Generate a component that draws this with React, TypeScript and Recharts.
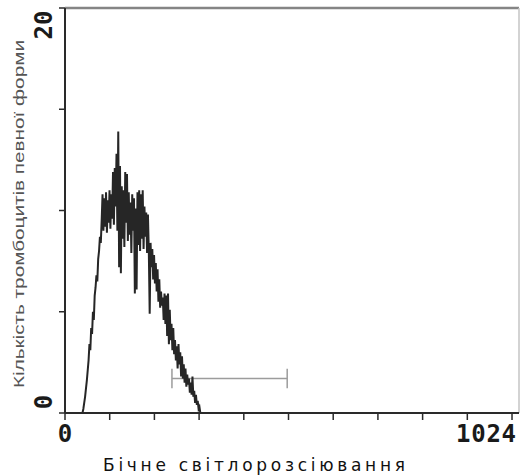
import { LineChart, Line, XAxis, YAxis, ReferenceLine } from 'recharts';

// histogram bins (side scatter channel)
const channelStart = 40;
const channelStep = 2;
const counts = [
  0, 0.2, 0.5, 0.8, 1.2, 1.6, 2.1, 2.6, 3.4, 3.1,
  4.2, 3.9, 5.0, 4.6, 5.8, 6.2, 6.8, 6.5, 7.6, 8.0,
  8.7, 8.4, 9.5, 10.8, 9.0, 10.6, 9.2, 10.9, 8.9, 10.5,
  9.4, 11.0, 9.1, 10.8, 9.6, 11.9, 9.3, 12.1, 10.2, 12.8,
  9.0, 13.9, 7.2, 12.2, 6.9, 11.2, 8.6, 11.0, 8.2, 11.9,
  9.4, 11.8, 8.5, 10.9, 8.8, 10.4, 7.9, 10.8, 9.0, 10.6,
  5.9, 10.1, 6.1, 10.9, 8.3, 11.0, 8.0, 10.8, 8.6, 11.0,
  8.1, 10.2, 8.7, 9.9, 7.9, 9.8, 8.0, 4.9, 8.4, 7.2,
  8.1, 6.6, 7.8, 6.4, 7.4, 6.0, 7.1, 5.5, 6.6, 5.2,
  6.0, 5.3, 5.7, 4.6, 5.9, 4.4, 5.8, 3.8, 5.9, 3.4,
  5.1, 3.6, 4.4, 3.1, 4.2, 2.9, 3.6, 2.6, 3.3, 2.2,
  3.4, 2.4, 3.0, 1.8, 2.8, 1.7, 2.4, 1.5, 2.2, 1.3,
  1.9, 1.4, 1.7, 1.0, 1.5, 0.9, 1.8, 0.8, 1.1, 0.5,
  0.9, 0.4, 0.6, 0.2, 0.3, 0,
];

const xTicks = [0, 102.4, 204.8, 307.2, 409.6, 512, 614.4, 716.8, 819.2, 921.6, 1024];
const xTickLabels: Record<number, string> = { 0: '0', 1024: '1024' };
const yTicks = [0, 5, 10, 15, 20];
const yTickLabels: Record<number, string> = { 0: '0', 20: '20' };

// marker (gate) under the tail
const gateFrom = 245;
const gateTo = 509;
const gateLevel = 1.7;
const gateCap = 0.48;

const xTitle = 'Бічне світлорозсіювання';
const yTitle = 'Кількість тромбоцитів певної форми';

const data = counts.map((c, i) => ({ ch: channelStart + i * channelStep, count: c }));

const XTick = (props: any) => {
  const { x, y, payload } = props;
  const label = xTickLabels[payload.value];
  if (!label) return null;
  const last = payload.value === 1024;
  return (
    <text
      x={last ? x + 4 : x}
      y={y + 20}
      textAnchor={last ? 'end' : 'middle'}
      fontFamily="DejaVu Sans Mono"
      fontWeight="bold"
      fontSize={24}
      fill="#1a1a1a"
      textLength={last ? 60 : undefined}
    >
      {label}
    </text>
  );
};

const YTick = (props: any) => {
  const { x, y, payload } = props;
  const label = yTickLabels[payload.value];
  if (!label) return null;
  const cx = x - 13;
  const cy = payload.value === 0 ? y - 11 : y + 17;
  return (
    <text
      x={cx}
      y={cy}
      transform={`rotate(-90 ${cx} ${cy})`}
      textAnchor="middle"
      dominantBaseline="central"
      fontFamily="DejaVu Sans Mono"
      fontWeight="bold"
      fontSize={24}
      fill="#1a1a1a"
    >
      {label}
    </text>
  );
};

export default function App() {
  return (
    <div style={{ position: 'absolute', left: 0, top: 0, width: 520, height: 475, background: '#fff' }}>
      <LineChart width={520} height={475} data={data} margin={{ top: 8, right: 1, bottom: 0, left: 0 }}>
        <XAxis
          dataKey="ch"
          type="number"
          domain={[0, 1040]}
          ticks={xTicks}
          allowDataOverflow
          height={62}
          tickSize={7}
          axisLine={{ stroke: '#2a2a2a', strokeWidth: 2 }}
          tickLine={{ stroke: '#2a2a2a', strokeWidth: 1.5 }}
          tick={<XTick />}
          interval={0}
        />
        <YAxis
          type="number"
          domain={[0, 20]}
          ticks={yTicks}
          allowDataOverflow
          width={65}
          tickSize={6}
          axisLine={{ stroke: '#2a2a2a', strokeWidth: 2 }}
          tickLine={{ stroke: '#2a2a2a', strokeWidth: 1.5 }}
          tick={<YTick />}
          interval={0}
        />
        <ReferenceLine y={20} stroke="#858585" strokeWidth={2.5} />
        <ReferenceLine x={1040} stroke="#c4c4c4" strokeWidth={1.5} />
        <ReferenceLine
          segment={[{ x: gateFrom, y: gateLevel }, { x: gateTo, y: gateLevel }]}
          stroke="#9c9c9c"
          strokeWidth={1.5}
        />
        <ReferenceLine
          segment={[{ x: gateFrom, y: gateLevel - gateCap }, { x: gateFrom, y: gateLevel + gateCap }]}
          stroke="#9c9c9c"
          strokeWidth={1.5}
        />
        <ReferenceLine
          segment={[{ x: gateTo, y: gateLevel - gateCap }, { x: gateTo, y: gateLevel + gateCap }]}
          stroke="#9c9c9c"
          strokeWidth={1.5}
        />
        <Line
          type="linear"
          dataKey="count"
          stroke="#262626"
          strokeWidth={2}
          dot={false}
          isAnimationActive={false}
        />
      </LineChart>
      <svg width={520} height={475} style={{ position: 'absolute', left: 0, top: 0, pointerEvents: 'none' }}>
        <text
          transform="translate(24,214) rotate(-90)"
          textAnchor="middle"
          fontFamily="Liberation Sans"
          fontSize={15}
          fill="#555"
          textLength={348}
          lengthAdjust="spacingAndGlyphs"
        >
          {yTitle}
        </text>
        <text
          x={254}
          y={471}
          textAnchor="middle"
          fontFamily="DejaVu Sans"
          fontSize={17}
          fill="#111"
          textLength={302}
        >
          {xTitle}
        </text>
      </svg>
    </div>
  );
}
